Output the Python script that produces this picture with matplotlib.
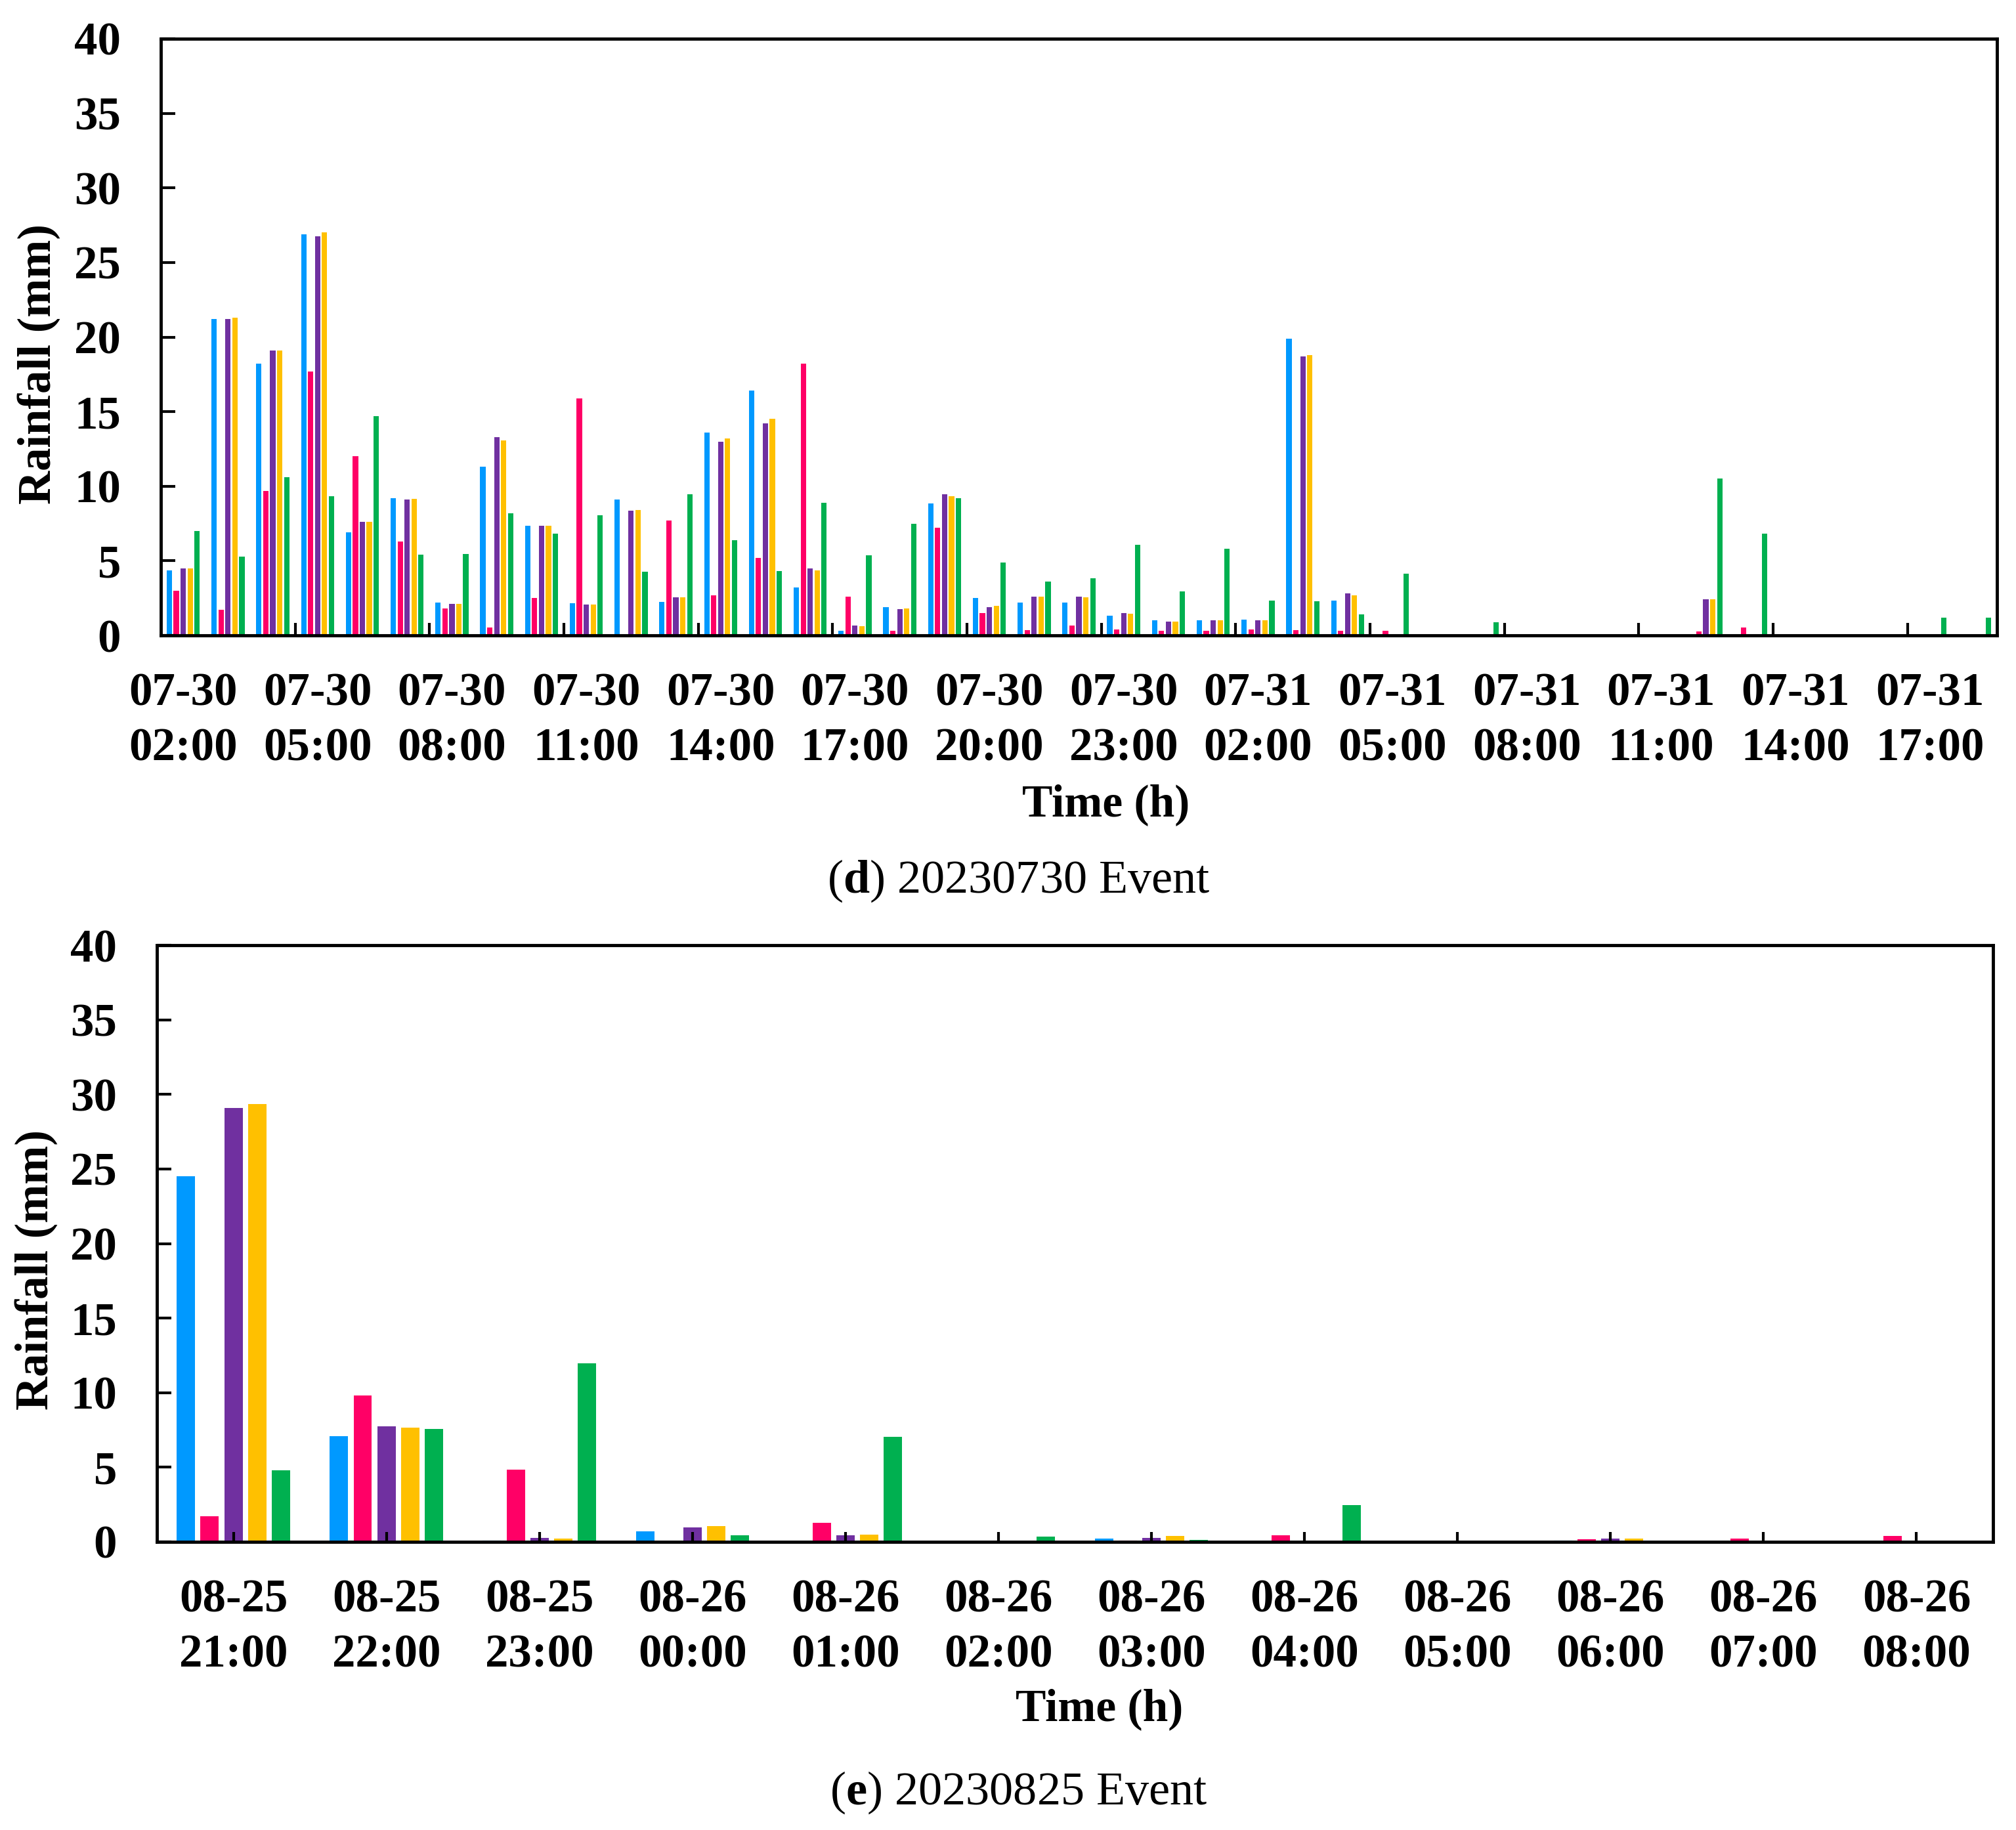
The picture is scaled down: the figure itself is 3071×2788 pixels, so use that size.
import numpy as np
import matplotlib
matplotlib.use("Agg")
import matplotlib.pyplot as plt
from matplotlib.ticker import FixedLocator

plt.rcParams['font.family'] = ['Liberation Serif', 'DejaVu Serif']
plt.rcParams['mathtext.fontset'] = 'custom'
plt.rcParams['mathtext.rm'] = 'Liberation Serif'
plt.rcParams['mathtext.bf'] = 'Liberation Serif:bold'

# ---- data: event 20230730 (hourly, 07-30 02:00 .. 07-31 18:00) ----
hours_d = ["07-30\n%02d:00" % h for h in range(2, 24)] + ["07-31\n%02d:00" % h for h in range(0, 19)]

s1_d = [4.37, 21.2, 18.2, 26.9, 6.9, 9.2, 2.2, 11.3, 7.35, 2.15,
        9.1, 2.25, 13.6, 16.4, 3.2, 0.3, 1.9, 8.86, 2.5, 2.2,
        2.2, 1.33, 1.0, 1.0, 1.04, 19.9, 2.35, 0, 0, 0,
        0, 0, 0, 0, 0, 0, 0, 0, 0, 0, 0]
s2_d = [3.0, 1.7, 9.7, 17.7, 12.0, 6.3, 1.8, 0.53, 2.5, 15.9,
        0, 7.7, 2.7, 5.2, 18.2, 2.6, 0.33, 7.22, 1.48, 0.37,
        0.65, 0.4, 0.3, 0.3, 0.4, 0.34, 0.3, 0.32, 0, 0,
        0, 0, 0, 0, 0.25, 0.54, 0, 0, 0, 0, 0]
s3_d = [4.47, 21.2, 19.1, 26.75, 7.6, 9.1, 2.1, 13.3, 7.35, 2.07,
        8.35, 2.54, 13.0, 14.2, 4.5, 0.65, 1.75, 9.45, 1.9, 2.6,
        2.58, 1.5, 0.92, 1.0, 1.0, 18.7, 2.8, 0, 0, 0,
        0, 0, 0, 0, 2.4, 0, 0, 0, 0, 0, 0]
s4_d = [4.47, 21.3, 19.1, 27.0, 7.6, 9.15, 2.1, 13.05, 7.35, 2.07,
        8.4, 2.54, 13.2, 14.5, 4.35, 0.6, 1.8, 9.35, 2.0, 2.6,
        2.55, 1.46, 0.92, 1.0, 1.0, 18.8, 2.67, 0, 0, 0,
        0, 0, 0, 0, 2.4, 0, 0, 0, 0, 0, 0]
s5_d = [7.0, 5.3, 10.6, 9.35, 14.7, 5.4, 5.45, 8.2, 6.8, 8.07,
        4.27, 9.45, 6.4, 4.3, 8.9, 5.37, 7.5, 9.2, 4.9, 3.6,
        3.84, 6.06, 2.95, 5.8, 2.33, 2.3, 1.43, 4.14, 0, 0.87,
        0, 0, 0, 0, 10.5, 6.8, 0, 0, 0, 1.18, 1.18]

# ---- data: event 20230825 (hourly, 08-25 21:00 .. 08-26 08:00) ----
hours_e = ["08-25\n21:00", "08-25\n22:00", "08-25\n23:00"] + ["08-26\n%02d:00" % h for h in range(0, 9)]

s1_e = [24.5, 7.07, 0.1, 0.72, 0, 0, 0.2, 0, 0, 0.1, 0, 0]
s2_e = [1.7, 9.8, 4.84, 0, 1.29, 0, 0.1, 0.46, 0, 0.18, 0.2, 0.39]
s3_e = [29.1, 7.74, 0.26, 0.95, 0.45, 0, 0.25, 0, 0, 0.22, 0, 0]
s4_e = [29.35, 7.64, 0.2, 1.04, 0.5, 0, 0.39, 0.05, 0, 0.22, 0, 0]
s5_e = [4.8, 7.55, 11.95, 0.43, 7.05, 0.37, 0.12, 2.46, 0, 0, 0, 0]

colors = ['#0099FF', '#FF0066', '#7030A0', '#FFC000', '#00B050']

W, H = 3071, 2788
fig = plt.figure(figsize=(W / 100, H / 100), dpi=100)


def box(l, t, r, b):
    return [l / W, 1 - b / H, (r - l) / W, (b - t) / H]


def draw(ax, series, labels, label_every, boundary_ticks):
    n = len(labels)
    x = np.arange(n)
    for j, (vals, c) in enumerate(zip(series, colors)):
        ax.bar(x + (j - 2) * 0.155, vals, width=0.12, color=c, linewidth=0)
    ax.set_xlim(-0.5, n - 0.5)
    ax.set_ylim(0, 40)
    ax.set_yticks(np.arange(0, 41, 5))
    ax.tick_params(axis='y', direction='in', length=16, width=3, pad=44,
                   labelsize=51)
    idx = list(range(0, n, label_every))
    ax.set_xticks(idx, [labels[i] for i in idx])
    if boundary_ticks:
        ax.tick_params(axis='x', which='major', length=0, pad=41, labelsize=51)
        ax.xaxis.set_minor_locator(FixedLocator(np.arange(2.5, n - 1, 3)))
        ax.tick_params(axis='x', which='minor', direction='in', length=14, width=3)
    else:
        ax.tick_params(axis='x', which='major', direction='in', length=11,
                       width=3, pad=41, labelsize=51)
    for lab in ax.get_xticklabels() + ax.get_yticklabels():
        lab.set_fontweight('bold')
        lab.set_linespacing(1.38)
    for sp in ax.spines.values():
        sp.set_linewidth(3.5)


ax1 = fig.add_axes(box(245, 59, 3042, 968))
draw(ax1, [s1_d, s2_d, s3_d, s4_d, s5_d], hours_d, 3, True)

ax2 = fig.add_axes(box(239, 1440, 3036, 2349))
draw(ax2, [s1_e, s2_e, s3_e, s4_e, s5_e], hours_e, 1, False)

fig.text(59 / W, 1 - 555 / H, "Rainfall (mm)", rotation=90, ha='center', va='center',
         fontsize=51, fontweight='bold')
fig.text(55 / W, 1 - 1935 / H, "Rainfall (mm)", rotation=90, ha='center', va='center',
         fontsize=51, fontweight='bold')
fig.text(1685 / W, 1 - 1226 / H, "Time (h)", ha='center', va='center',
         fontsize=50, fontweight='bold')
fig.text(1675 / W, 1 - 2604 / H, "Time (h)", ha='center', va='center',
         fontsize=50, fontweight='bold')
fig.text(1552 / W, 1 - 1342 / H, r"($\mathbf{d}$) 20230730 Event", ha='center', va='center',
         fontsize=52)
fig.text(1552 / W, 1 - 2731 / H, r"($\mathbf{e}$) 20230825 Event", ha='center', va='center',
         fontsize=52)

fig.savefig("out.png", dpi=100, facecolor='white')
